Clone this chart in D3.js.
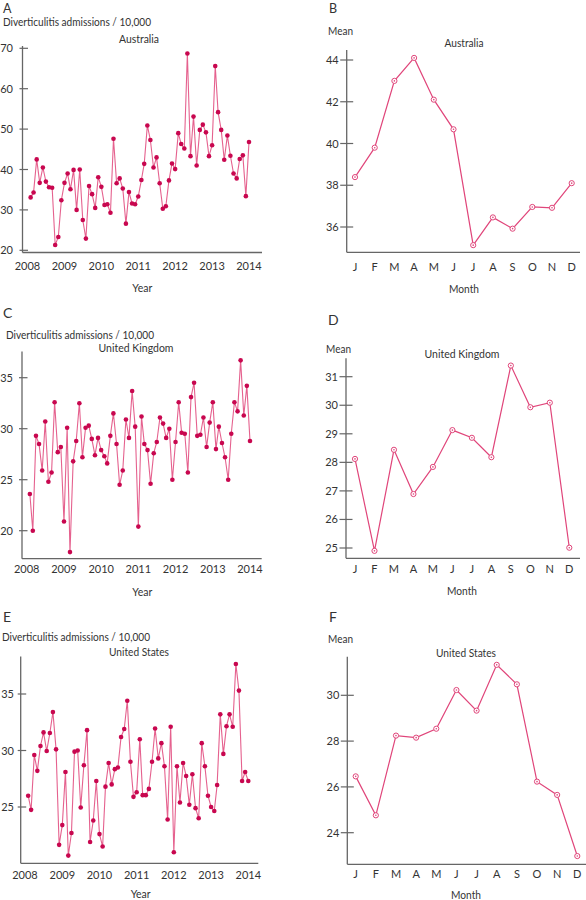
<!DOCTYPE html>
<html><head><meta charset="utf-8">
<script src="https://cdn.jsdelivr.net/npm/d3@7"></script>
<style>body{margin:0;background:#fff}svg{display:block}text{font-family:Lato,"Open Sans",sans-serif;fill:#333}</style>
</head><body>
<svg id="c" width="586" height="900"></svg>
<script>
const years = ["2008","2009","2010","2011","2012","2013","2014"];
const months = ["J","F","M","A","M","J","J","A","S","O","N","D"];
const australia = [33.1,34.3,42.5,36.7,40.5,37.0,35.6,35.5,21.3,23.3,32.4,36.7,
 39.0,35.1,39.9,30.0,40.0,27.5,22.9,35.9,33.9,30.5,38.1,35.7,
 31.2,31.4,29.3,47.6,36.6,37.8,35.3,26.6,34.4,31.6,31.4,33.3,
 37.4,41.4,50.9,47.3,40.5,43.0,36.6,30.3,30.9,37.3,41.5,40.1,
 49.0,46.3,45.2,68.7,43.3,53.1,41.0,49.8,51.1,49.2,43.3,46.0,
 65.6,54.2,49.8,42.4,48.4,43.4,39.0,37.8,42.6,43.5,33.4,46.8];
const unitedKingdom = [23.6,20.0,29.3,28.5,25.9,30.7,24.8,25.7,32.6,27.7,28.2,20.9,
 30.1,17.9,26.8,28.8,32.5,27.2,30.1,30.3,29.0,27.4,29.1,27.9,
 27.3,26.6,29.3,31.5,28.5,24.5,25.9,30.9,29.1,33.7,30.2,20.4,
 31.2,28.5,27.9,24.6,27.6,28.7,31.1,30.5,29.1,30.0,25.0,28.7,
 32.6,29.6,29.5,25.7,33.1,34.5,29.3,29.4,31.1,28.2,30.6,32.6,
 28.0,30.2,28.6,27.2,25.0,29.5,32.6,31.7,36.7,31.3,34.2,28.8];
const unitedStates = [26.0,24.75,29.6,28.2,30.4,31.6,29.95,31.55,33.4,30.1,21.65,23.4,
 28.1,20.7,22.7,29.9,30.0,24.95,28.7,31.8,21.9,23.8,27.3,22.6,
 21.5,26.8,28.9,27.0,28.35,28.5,31.2,31.9,34.4,29.0,25.9,26.3,
 31.0,26.05,26.05,26.6,29.0,31.95,29.3,30.65,28.6,23.9,32.1,21.0,
 28.6,25.4,28.9,27.75,25.2,27.9,24.9,24.0,30.65,28.6,26.0,25.0,
 24.65,26.95,33.2,29.7,32.15,33.2,32.1,37.65,35.3,27.3,28.1,27.3];
const meanAustralia = [38.39,39.8,43.0,44.1,42.1,40.68,35.13,36.46,35.92,36.96,36.92,38.1];
const meanUnitedKingdom = [28.12,24.9,28.44,26.89,27.84,29.13,28.86,28.18,31.39,29.93,30.09,25.01];
const meanUnitedStates = [26.46,24.76,28.24,28.15,28.54,30.23,29.33,31.33,30.48,26.23,25.65,22.98];
const ticksAU = [20,30,40,50,60,70], ticksUK = [20,25,30,35], ticksUS = [25,30,35];
const ticksMAU = [36,38,40,42,44], ticksMUK = [25,26,27,28,29,30,31], ticksMUS = [24,26,28,30];

const svg = d3.select("#c");
const AX = "#666", LINE = "#e0457a", DOT = "#c8074f";

function txt(g, x, y, s, size, anchor, len){
  const t = g.append("text").attr("x",x).attr("y",y).attr("font-size",size)
    .attr("text-anchor",anchor||"start").text(s);
  if(len){ t.attr("textLength",len).attr("lengthAdjust","spacingAndGlyphs"); }
  return t;
}

function timePanel(o){
  const g = svg.append("g");
  const x = d3.scaleTime().domain([new Date(2008,0,1), new Date(2014,0,1)]).range([o.x0, o.x1]);
  const y = d3.scaleLinear().domain([o.v0, o.v1]).range([o.py0, o.py1]);
  txt(g, 3, o.letterY, o.letter, o.letterSize || 14);
  txt(g, o.titleX, o.titleY, "Diverticulitis admissions / 10,000", 11, "start", 148);
  txt(g, o.nameX, o.nameY, o.name, 11.5, "middle", o.nameLen);
  g.append("line").attr("x1",o.ax).attr("x2",o.ax).attr("y1",o.top).attr("y2",o.bottom).attr("stroke",AX).attr("stroke-width",1.3);
  g.append("line").attr("x1",o.ax).attr("x2",o.right).attr("y1",o.bottom).attr("y2",o.bottom).attr("stroke",AX).attr("stroke-width",1.3);
  o.ticks.forEach(t=>{
    g.append("line").attr("x1",o.ax-3).attr("x2",o.ax+5.5).attr("y1",y(t)).attr("y2",y(t)).attr("stroke",AX).attr("stroke-width",1.2);
    txt(g, o.labelEnd, y(t)+4, String(t), 11, "end");
  });
  years.forEach(s=>{
    txt(g, x(new Date(+s,0,1)), o.yearY, s, 11, "middle");
  });
  txt(g, (o.x0+o.x1)/2+4, o.axisTitleY, "Year", 11.5, "middle", 20);
  const pts = o.data.map((v,i)=>[x(new Date(2008,i+1,1)), y(v)]);
  g.append("path").attr("d", d3.line()(pts)).attr("fill","none").attr("stroke",LINE).attr("stroke-width",1.1).attr("stroke-opacity",0.85);
  g.selectAll("circle.d").data(pts).enter().append("circle")
    .attr("cx",d=>d[0]).attr("cy",d=>d[1]).attr("r",2.3).attr("fill",DOT);
}

function monthPanel(o){
  const g = svg.append("g");
  const x = d3.scalePoint().domain(d3.range(12)).range([o.x0, o.x1]);
  const y = d3.scaleLinear().domain([o.v0, o.v1]).range([o.py0, o.py1]);
  txt(g, o.letterX, o.letterY, o.letter, o.letterSize || 14);
  txt(g, o.meanX, o.meanY, "Mean", 11.5, "start", 25);
  txt(g, o.nameX, o.nameY, o.name, 11.5, "middle", o.nameLen);
  g.append("line").attr("x1",o.ax).attr("x2",o.ax).attr("y1",o.top).attr("y2",o.bottom).attr("stroke",AX).attr("stroke-width",1.3);
  g.append("line").attr("x1",o.ax).attr("x2",o.right).attr("y1",o.bottom).attr("y2",o.bottom).attr("stroke",AX).attr("stroke-width",1.3);
  o.ticks.forEach(t=>{
    g.append("line").attr("x1",o.ax-6.5).attr("x2",o.ax+6.5).attr("y1",y(t)).attr("y2",y(t)).attr("stroke",AX).attr("stroke-width",1.2);
    txt(g, o.ax-8, y(t)+4, String(t), 11, "end");
  });
  months.forEach((m,i)=> txt(g, x(i), o.monthY, m, 11, "middle"));
  txt(g, o.nameX, o.axisTitleY, "Month", 11.5, "middle", 30);
  const pts = o.data.map((v,i)=>[x(i), y(v)]);
  g.append("path").attr("d", d3.line()(pts)).attr("fill","none").attr("stroke",LINE).attr("stroke-width",1.2);
  const c = g.selectAll("g.m").data(pts).enter().append("g");
  c.append("circle").attr("cx",d=>d[0]).attr("cy",d=>d[1]).attr("r",2.6).attr("fill","#fff").attr("stroke",LINE).attr("stroke-width",1);
  c.append("circle").attr("cx",d=>d[0]).attr("cy",d=>d[1]).attr("r",0.8).attr("fill",LINE);
}

timePanel({letter:"A", letterY:12.5, letterSize:12.5, titleX:3, titleY:26, name:"Australia", nameLen:40, nameX:139, nameY:43,
  x0:27.5, x1:249, v0:20, v1:70, py0:250.3, py1:48.3, ax:22.5, top:46, bottom:252.5, right:262,
  ticks:ticksAU, labelEnd:13, yearY:270, axisTitleY:292, data:australia});
timePanel({letter:"C", letterY:318, titleX:6, titleY:339, name:"United Kingdom", nameLen:75, nameX:136, nameY:352,
  x0:26.7, x1:250, v0:20, v1:35, py0:530.7, py1:377.7, ax:22, top:351.5, bottom:558.7, right:261.7,
  ticks:ticksUK, labelEnd:13, yearY:572.7, axisTitleY:596, data:unitedKingdom});
timePanel({letter:"E", letterY:622, titleX:2, titleY:641, name:"United States", nameLen:60, nameX:139, nameY:656,
  x0:25, x1:248.3, v0:25, v1:35, py0:807, py1:694, ax:20.7, top:656.5, bottom:863.3, right:258.3,
  ticks:ticksUS, labelEnd:14, yearY:879, axisTitleY:898, data:unitedStates});

monthPanel({letter:"B", letterX:329, letterY:13, letterSize:12.5, meanX:328, meanY:35, name:"Australia", nameLen:39, nameX:464, nameY:46.7,
  x0:355, x1:571.7, v0:36, v1:44, py0:227, py1:60, ax:346.7, top:50, bottom:252.3, right:580,
  ticks:ticksMAU, monthY:270.7, axisTitleY:293, data:meanAustralia});
monthPanel({letter:"D", letterX:328, letterY:325, meanX:326, meanY:352.7, name:"United Kingdom", nameLen:75, nameX:462, nameY:358.3,
  x0:355, x1:569.3, v0:25, v1:31, py0:548, py1:376.7, ax:346, top:358.3, bottom:558.3, right:580,
  ticks:ticksMUK, monthY:572.7, axisTitleY:595, data:meanUnitedKingdom});
monthPanel({letter:"F", letterX:329, letterY:622, meanX:328, meanY:643.3, name:"United States", nameLen:60, nameX:466, nameY:656.7,
  x0:355.7, x1:577.3, v0:24, v1:30, py0:832.7, py1:695.3, ax:347.3, top:656.7, bottom:864.3, right:586,
  ticks:ticksMUS, monthY:878, axisTitleY:899, data:meanUnitedStates});
</script>
</body></html>
